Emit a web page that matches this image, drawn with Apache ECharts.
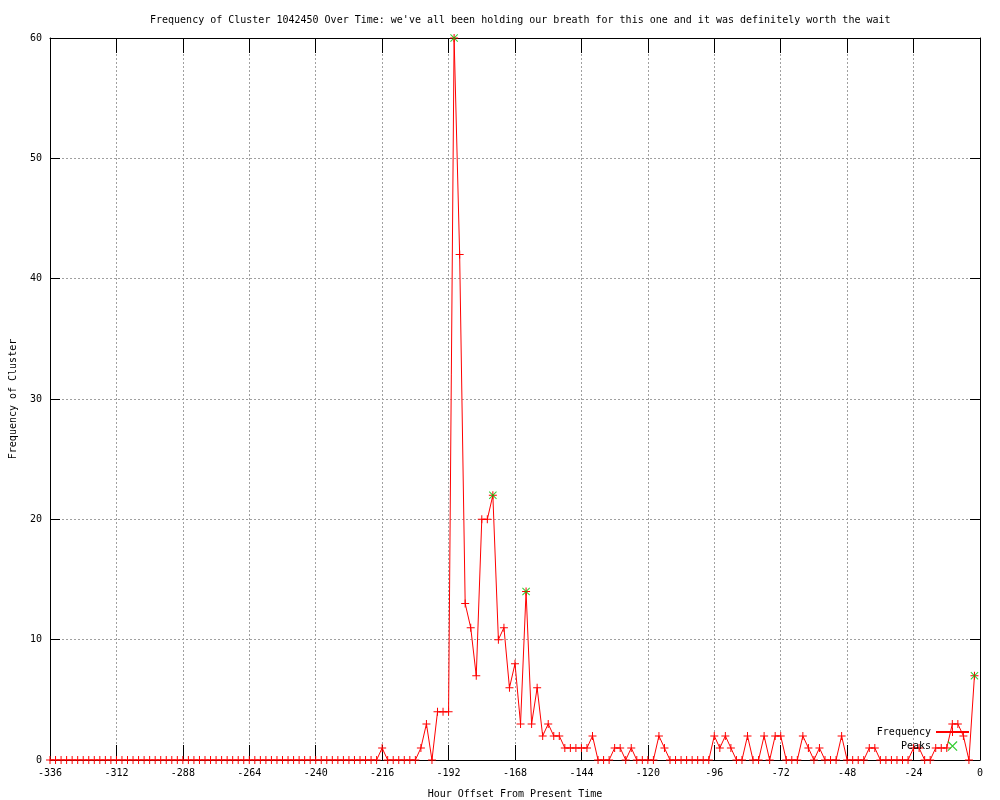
<!DOCTYPE html>
<html>
<head>
<meta charset="utf-8">
<script src="https://cdn.jsdelivr.net/npm/echarts@6/dist/echarts.min.js"></script>
<style>html,body{margin:0;padding:0;background:#fff;}#c{width:1000px;height:800px;}</style>
</head>
<body>
<div id="c"></div>
<script>
// Hour offsets: every 2 hours from -336 to -2
var hourStart = -336;
var hourStep = 2;
// Frequency of cluster at each hour offset
var frequency = [
  // -336 .. -218 (60 values)
  0,0,0,0,0,0,0,0,0,0, 0,0,0,0,0,0,0,0,0,0,
  0,0,0,0,0,0,0,0,0,0, 0,0,0,0,0,0,0,0,0,0,
  0,0,0,0,0,0,0,0,0,0, 0,0,0,0,0,0,0,0,0,0,
  // -216 .. -204
  1,0,0,0,0,0,0,
  // -202 .. -164
  1,3,0,4,4,4,60,42,13,11,7,20,20,22,10,11,6,8,3,14,
  // -162 .. -124
  3,6,2,3,2,2,1,1,1,1,1,2,0,0,0,1,1,0,1,0,
  // -122 .. -84
  0,0,0,2,1,0,0,0,0,0,0,0,0,2,1,2,1,0,0,2,
  // -82 .. -44
  0,0,2,0,2,2,0,0,0,2,1,0,1,0,0,0,2,0,0,0,
  // -42 .. -2
  0,1,1,0,0,0,0,0,0,1,1,0,0,1,1,1,3,3,2,0,7
];
var peakHours = [-190, -176, -164, -2];
var peakValues = [60, 22, 14, 7];
var xTicks = { min: -336, max: 0, interval: 24 };
var yTicks = { min: 0, max: 60, interval: 10 };

var freqData = frequency.map(function (v, i) { return [hourStart + i * hourStep, v]; });
var peakData = peakHours.map(function (h, i) { return [h, peakValues[i]]; });

var FONT = 'DejaVu Sans Mono';
var plusPath = 'path://M0,3.5H8V4.5H0Z M3.5,0H4.5V8H3.5Z';
var xPath = 'path://M0,0.7L0.7,0L8,7.3L7.3,8Z M7.3,0L8,0.7L0.7,8L0,7.3Z';
var gridLine = { show: true, lineStyle: { color: '#a0a0a0', width: 1, type: [2, 2] } };
var axisLine = { show: true, onZero: false, lineStyle: { color: '#000', width: 1 } };

var chart = echarts.init(document.getElementById('c'), null, { renderer: 'canvas' });
chart.setOption({
  animation: false,
  backgroundColor: '#fff',
  title: {
    text: "Frequency of Cluster 1042450 Over Time: we've all been holding our breath for this one and it was definitely worth the wait",
    left: 145, top: 10,
    textStyle: { fontFamily: FONT, fontSize: 10, fontWeight: 'normal', color: '#000' }
  },
  grid: { left: 50, right: 20, top: 38, bottom: 40, containLabel: false, outerBoundsMode: 'none' },
  legend: {
    data: ['Frequency', 'Peaks'],
    orient: 'vertical', align: 'right',
    right: 30, top: 727,
    itemWidth: 33, itemHeight: 10, itemGap: 4,
    padding: 0,
    textStyle: { fontFamily: FONT, fontSize: 10, color: '#000' }
  },
  xAxis: [{
    type: 'value', min: xTicks.min, max: xTicks.max, interval: xTicks.interval,
    position: 'bottom',
    name: 'Hour Offset From Present Time', nameLocation: 'middle', nameGap: 29,
    nameTextStyle: { fontFamily: FONT, fontSize: 10, color: '#000' },
    axisLine: axisLine,
    axisTick: { show: true, inside: true, length: 15, lineStyle: { color: '#000' } },
    axisLabel: { fontFamily: FONT, fontSize: 10, color: '#000', margin: 8 },
    splitLine: gridLine
  }, {
    type: 'value', min: xTicks.min, max: xTicks.max, interval: xTicks.interval,
    position: 'top',
    axisLine: axisLine,
    axisTick: { show: true, inside: true, length: 15, lineStyle: { color: '#000' } },
    axisLabel: { show: false },
    splitLine: { show: false }
  }],
  yAxis: [{
    type: 'value', min: yTicks.min, max: yTicks.max, interval: yTicks.interval,
    position: 'left',
    name: 'Frequency of Cluster', nameLocation: 'middle', nameGap: 32,
    nameTextStyle: { fontFamily: FONT, fontSize: 10, color: '#000' },
    axisLine: axisLine,
    axisTick: { show: true, inside: true, length: 10, lineStyle: { color: '#000' } },
    axisLabel: { fontFamily: FONT, fontSize: 10, color: '#000', margin: 8 },
    splitLine: gridLine
  }, {
    type: 'value', min: yTicks.min, max: yTicks.max, interval: yTicks.interval,
    position: 'right',
    axisLine: axisLine,
    axisTick: { show: true, inside: true, length: 10, lineStyle: { color: '#000' } },
    axisLabel: { show: false },
    splitLine: { show: false }
  }],
  series: [{
    name: 'Frequency', type: 'line', xAxisIndex: 0, yAxisIndex: 0,
    data: freqData,
    showAllSymbol: true,
    symbol: plusPath, symbolSize: 8,
    itemStyle: { color: '#ff0000', borderWidth: 0 },
    lineStyle: { color: '#ff0000', width: 1 },
    emphasis: { disabled: true },
    z: 2
  }, {
    name: 'Peaks', type: 'scatter', xAxisIndex: 0, yAxisIndex: 0,
    data: peakData,
    symbol: xPath, symbolSize: 8,
    itemStyle: { color: '#00c000' },
    emphasis: { disabled: true },
    z: 3
  }]
});
</script>
</body>
</html>
